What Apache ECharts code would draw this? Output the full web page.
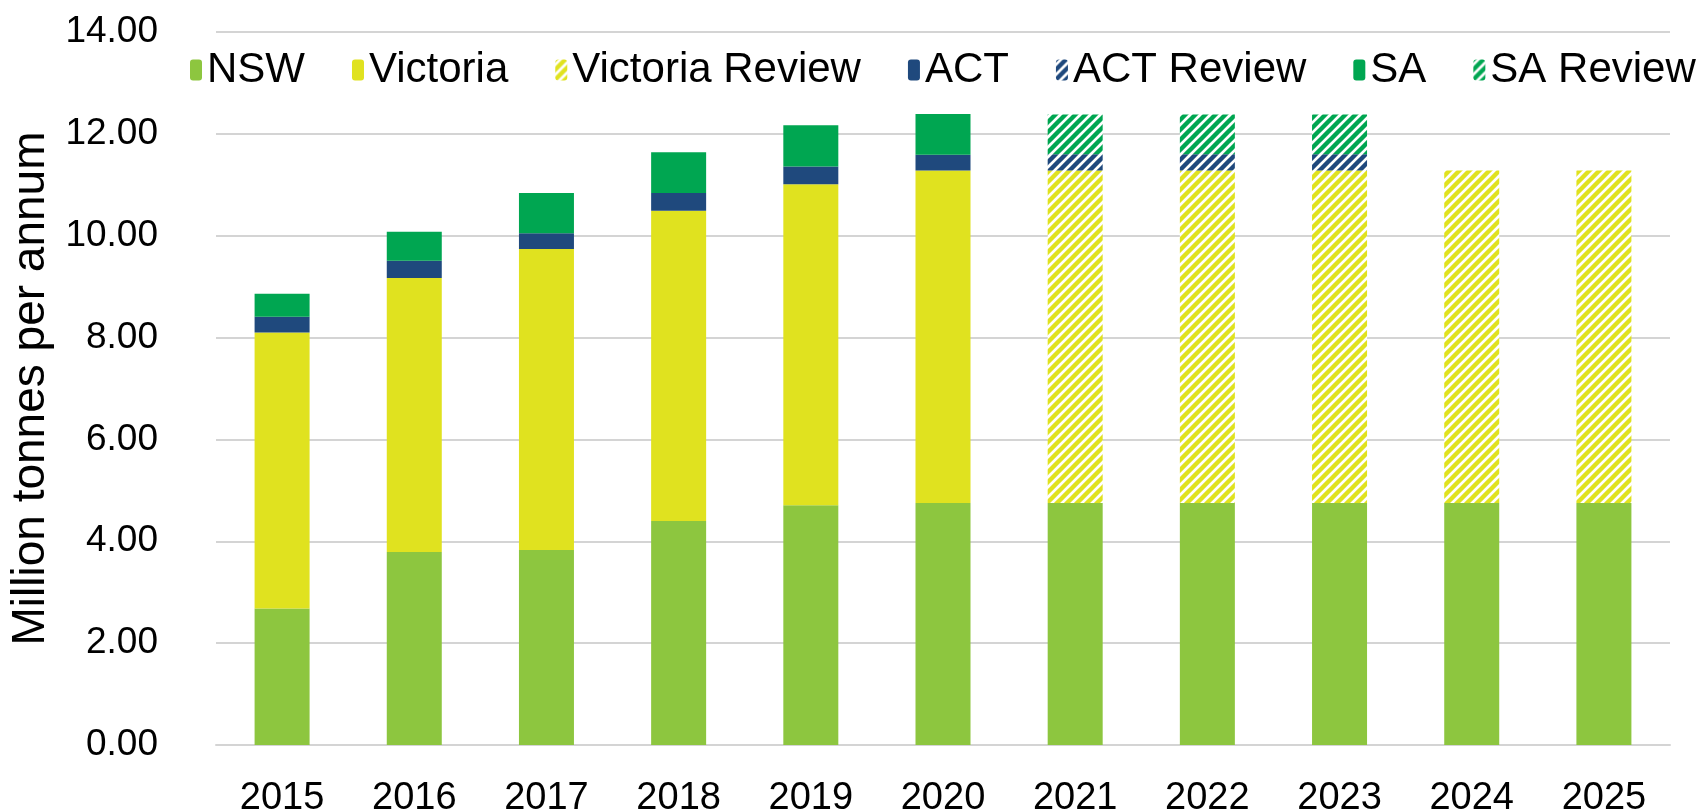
<!DOCTYPE html>
<html>
<head>
<meta charset="utf-8">
<script src="https://cdn.jsdelivr.net/npm/echarts@6/dist/echarts.min.js"></script>
<style>
  html, body { margin: 0; padding: 0; background: #fff; }
  #chart { width: 1705px; height: 810px; }
</style>
</head>
<body>
<div id="chart"></div>
<script>
// years on the x axis
const years = ['2015', '2016', '2017', '2018', '2019', '2020', '2021', '2022', '2023', '2024', '2025']

// stacked segment heights, million tonnes per annum
const nsw            = [2.68, 3.79, 3.83, 4.40, 4.71, 4.75, 4.75, 4.75, 4.75, 4.75, 4.75]
const victoria       = [5.42, 5.38, 5.91, 6.09, 6.30, 6.53, null, null, null, null, null]
const victoriaReview = [null, null, null, null, null, null, 6.53, 6.53, 6.53, 6.53, 6.53]
const act            = [0.31, 0.34, 0.31, 0.35, 0.35, 0.31, null, null, null, null, null]
const actReview      = [null, null, null, null, null, null, 0.32, 0.32, 0.32, null, null]
const sa             = [0.45, 0.57, 0.79, 0.80, 0.81, 0.80, null, null, null, null, null]
const saReview       = [null, null, null, null, null, null, 0.78, 0.78, 0.78, null, null]

const yTicks = [0, 2, 4, 6, 8, 10, 12, 14]

const FONT = "'Liberation Sans', Arial, sans-serif"
const C_NSW = '#8dc63f'
const C_VIC = '#e0e21f'
const C_ACT = '#1f497d'
const C_SA = '#00a651'

// diagonal hatch, coloured stripes on white
function stripes(color) {
  const size = 10
  const cv = document.createElement('canvas')
  cv.width = size; cv.height = size
  const ctx = cv.getContext('2d')
  ctx.fillStyle = '#fff'
  ctx.fillRect(0, 0, size, size)
  ctx.strokeStyle = color
  ctx.lineWidth = 4.4
  ctx.beginPath()
  ctx.moveTo(-size, size); ctx.lineTo(size, -size)
  ctx.moveTo(0, size * 2); ctx.lineTo(size * 2, 0)
  ctx.moveTo(-size / 2, size + size / 2); ctx.lineTo(size + size / 2, -size / 2)
  ctx.stroke()
  return { image: cv, repeat: 'repeat' }
}

function bar(name, data, color) {
  return {
    name, type: 'bar', stack: 'total', data,
    barWidth: 55,
    itemStyle: { color },
    emphasis: { disabled: true },
  }
}

const chart = echarts.init(document.getElementById('chart'), null, { renderer: 'canvas' })

chart.setOption({
  animation: false,
  textStyle: { fontFamily: FONT },
  legend: {
    top: 44, left: 185,
    itemWidth: 12, itemHeight: 21, itemGap: 47,
    textStyle: { fontSize: 42, color: '#000', fontFamily: FONT },
    data: ['NSW', 'Victoria', 'Victoria Review', 'ACT', 'ACT Review', 'SA', 'SA Review'],
  },
  grid: { left: 216, right: 35, top: 32, bottom: 65, containLabel: false, outerBoundsMode: 'none' },
  xAxis: {
    type: 'category',
    data: years,
    axisTick: { show: false },
    axisLine: { lineStyle: { color: '#d4d4d4', width: 2 } },
    axisLabel: { fontSize: 38, color: '#000', margin: 35, fontFamily: FONT },
  },
  yAxis: {
    type: 'value',
    min: yTicks[0], max: yTicks[yTicks.length - 1], interval: 2,
    name: 'Million tonnes per annum',
    nameLocation: 'middle', nameGap: 149, nameRotate: 90,
    nameTextStyle: { fontSize: 46, color: '#000', fontFamily: FONT },
    axisLine: { show: false },
    axisTick: { show: false },
    axisLabel: {
      fontSize: 37, color: '#000', margin: 58, fontFamily: FONT,
      formatter: v => v.toFixed(2),
    },
    splitLine: { lineStyle: { color: '#d4d4d4', width: 2 } },
  },
  series: [
    bar('NSW', nsw, C_NSW),
    bar('Victoria', victoria, C_VIC),
    bar('Victoria Review', victoriaReview, stripes(C_VIC)),
    bar('ACT', act, C_ACT),
    bar('ACT Review', actReview, stripes(C_ACT)),
    bar('SA', sa, C_SA),
    bar('SA Review', saReview, stripes(C_SA)),
  ],
})
</script>
</body>
</html>
